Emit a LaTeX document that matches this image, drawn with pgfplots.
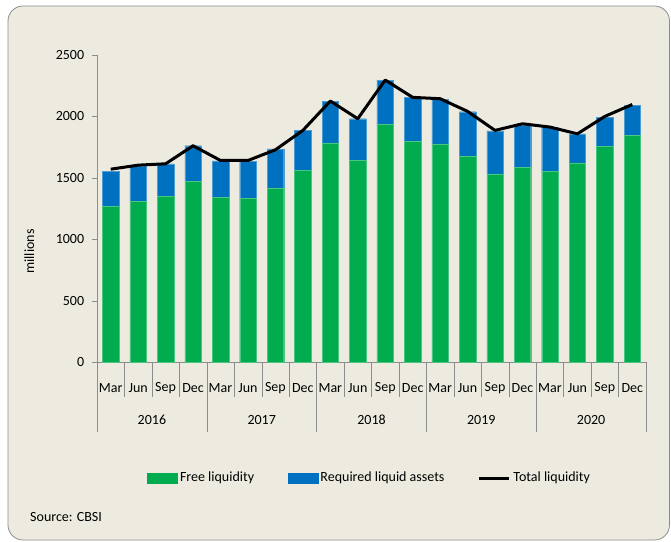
\documentclass[border=0pt]{standalone}
\usepackage{pgfplots}
\pgfplotsset{compat=1.18}
\usepackage{pgfplotstable}
\usepackage{fontspec}
\setmainfont{Carlito}
\definecolor{bgc}{HTML}{EDEBE0}
\definecolor{fgreen}{HTML}{00AC4E}
\definecolor{rblue}{HTML}{0070C0}
\definecolor{axgray}{HTML}{8C8C8C}
\pgfplotstableread{
x free req total
0 1269 282 1570
1 1310 288 1603
2 1350 264 1614
3 1473 288 1761
4 1342 296 1641
5 1331 305 1641
6 1418 318 1728
7 1560 326 1886
8 1785 340 2125
9 1644 337 1981
10 1934 362 2296
11 1799 356 2155
12 1777 364 2144
13 1676 362 2041
14 1532 351 1886
15 1584 348 1940
16 1554 359 1913
17 1622 236 1858
18 1758 236 2000
19 1848 241 2097
}\datatable
\pgfplotsset{myframe/.style={
  at={(97pt,179pt)}, anchor=south west,
  scale only axis, width=549pt, height=307pt,
  xmin=-0.5, xmax=19.5, ymin=0, ymax=2500,
  clip=false}}
\begin{document}
\fontsize{14pt}{17pt}\selectfont
\begin{tikzpicture}[x=1pt,y=1pt]
\useasboundingbox (0,0) rectangle (671,541);
\draw[rounded corners=15pt, draw=axgray, line width=0.8pt, fill=bgc] (8,1) rectangle (669.5,535);
\begin{axis}[
  myframe,
  axis x line*=bottom, axis y line*=left,
  axis line style={draw=axgray, -},
  ytick={0,500,...,2500},
  tick align=outside,
  major tick length=5pt,
  tick style={draw=axgray},
  xtick={0,...,19},
  x tick style={draw=none},
  xticklabels={Mar,Jun,Sep,Dec,Mar,Jun,Sep,Dec,Mar,Jun,Sep,Dec,Mar,Jun,Sep,Dec,Mar,Jun,Sep,Dec},
  xticklabel style={anchor=center, yshift=-21pt, font=\fontsize{14pt}{17pt}\selectfont},
  yticklabel style={font=\fontsize{14pt}{17pt}\selectfont, xshift=-3pt},
  /pgf/number format/assume math mode=true,
  /pgf/number format/1000 sep={},
  scaled y ticks=false,
  ylabel={millions},
  ylabel style={font=\fontsize{14pt}{17pt}\selectfont, at={(axis description cs:0,0.36)}, anchor=south, yshift=58pt},
  ybar stacked, bar width=16.5pt,
  legend columns=3,
  legend style={draw=none, fill=none, at={(0.497,-0.378)}, anchor=center,
    font=\fontsize{14pt}{17pt}\selectfont,
    nodes={inner xsep=2.5pt, inner ysep=1pt},
    /tikz/every even column/.append style={column sep=31pt}},
  legend cell align=left,
]
\addplot[fill=fgreen, draw=fgreen!70!white, line width=0.3pt,
  legend image code/.code={\fill[fgreen] (0pt,-5pt) rectangle (30pt,5pt);}]
  table[x=x, y=free] {\datatable};
\addlegendentry{Free liquidity}
\addplot[fill=rblue, draw=rblue!70!white, line width=0.3pt,
  legend image code/.code={\fill[rblue] (0pt,-5pt) rectangle (30pt,5pt);}]
  table[x=x, y=req] {\datatable};
\addlegendentry{Required liquid assets}
\addlegendimage{legend image code/.code={\draw[black, line width=3pt] (0pt,0pt) -- (30pt,0pt);}}
\addlegendentry{Total liquidity}
\pgfplotsinvokeforeach{0.5,1.5,2.5,4.5,5.5,6.5,8.5,9.5,10.5,12.5,13.5,14.5,16.5,17.5,18.5}{
  \draw[axgray] (axis cs:#1,0) -- ++(0pt,-35pt);
}
\pgfplotsinvokeforeach{-0.5,3.5,7.5,11.5,15.5,19.5}{
  \draw[axgray] (axis cs:#1,0) -- ++(0pt,-70pt);
}
\node[anchor=center] at ([yshift=-58pt]axis cs:1.5,0) {2016};
\node[anchor=center] at ([yshift=-58pt]axis cs:5.5,0) {2017};
\node[anchor=center] at ([yshift=-58pt]axis cs:9.5,0) {2018};
\node[anchor=center] at ([yshift=-58pt]axis cs:13.5,0) {2019};
\node[anchor=center] at ([yshift=-58pt]axis cs:17.5,0) {2020};
\end{axis}
\begin{axis}[myframe, hide axis]
\addplot[sharp plot, black, line width=3pt, no markers, line join=round]
  table[x=x, y=total] {\datatable};
\end{axis}
\node[anchor=west, inner sep=0pt] at (30,24) {\fontsize{14pt}{17pt}\selectfont Source: CBSI};
\end{tikzpicture}
\end{document}
